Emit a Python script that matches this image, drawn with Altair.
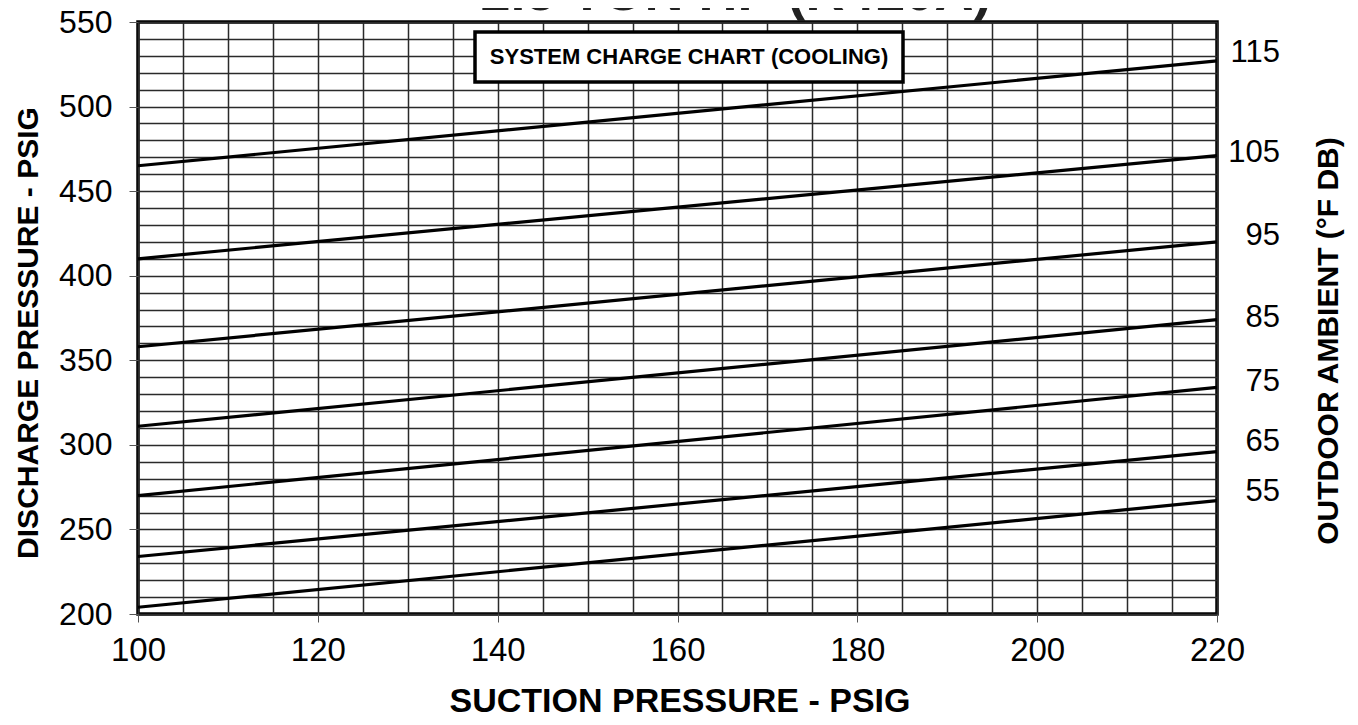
import altair as alt
import pandas as pd

# ---- data ----
ambient_f = [115, 105, 95, 85, 75, 65, 55]            # outdoor ambient (°F DB)
suction_ends = [100, 220]                             # suction pressure (psig) at line ends
discharge_at_100 = [465, 410, 358, 311, 270, 234, 204]
discharge_at_220 = [527, 471, 420, 374, 334, 296, 267]
label_discharge = [531.8, 472.6, 423.5, 375.0, 337.1, 301.6, 272.0]  # where each right label sits

x_ticks = [100, 120, 140, 160, 180, 200, 220]
y_ticks = [200, 250, 300, 350, 400, 450, 500, 550]
x_grid = list(range(100, 221, 5))
y_grid = list(range(200, 551, 10))

chart_title = "2.5 TON HP (R410A)"
box_title = "SYSTEM CHARGE CHART (COOLING)"
x_title = "SUCTION PRESSURE - PSIG"
y_title = "DISCHARGE PRESSURE - PSIG"
right_title = "OUTDOOR AMBIENT (°F DB)"

rows = []
for t, a, b in zip(ambient_f, discharge_at_100, discharge_at_220):
    rows.append({"ambient": t, "suction": suction_ends[0], "discharge": a})
    rows.append({"ambient": t, "suction": suction_ends[1], "discharge": b})
lines_df = pd.DataFrame(rows)
labels_df = pd.DataFrame({"label": [str(t) for t in ambient_f], "discharge": label_discharge})

FONT = "Liberation Sans"
W, H = 1079, 592

xscale = alt.Scale(domain=[100, 220], nice=False, zero=False)
yscale = alt.Scale(domain=[200, 550], nice=False, zero=False)

x_axis = alt.Axis(
    values=x_grid, title=None, domain=False, grid=True,
    gridColor="#2a2a2a", gridWidth=1.5,
    labelExpr="datum.value % 20 == 0 ? datum.label : ''",
    tickOpacity=alt.ExprRef(expr="datum.value % 20 == 0 ? 1 : 0"),
    tickSize=8, tickColor="#555", tickWidth=1,
    labelFont=FONT, labelFontSize=33, labelColor="black",
    labelPadding=12, labelOverlap=False, labelFlush=False,
)
y_axis = alt.Axis(
    values=y_grid, title=None, domain=False, grid=True,
    gridColor="#2a2a2a", gridWidth=1.5,
    labelExpr="datum.value % 50 == 0 ? datum.label : ''",
    tickOpacity=alt.ExprRef(expr="datum.value % 50 == 0 ? 1 : 0"),
    tickSize=9, tickColor="#555", tickWidth=1,
    labelFont=FONT, labelFontSize=32, labelColor="black",
    labelPadding=17, labelOverlap=False, labelFlush=False,
)

lines = alt.Chart(lines_df).mark_line(color="black", strokeWidth=3.2).encode(
    x=alt.X("suction:Q", scale=xscale, axis=x_axis),
    y=alt.Y("discharge:Q", scale=yscale, axis=y_axis),
    detail="ambient:N",
)

right_labels = alt.Chart(labels_df).mark_text(
    align="right", baseline="middle", font=FONT, fontSize=31, color="black"
).encode(
    x=alt.value(1142),
    y=alt.Y("discharge:Q", scale=yscale, axis=y_axis),
    text="label:N",
)

one = pd.DataFrame({"k": [0]})

box = alt.Chart(one).mark_rect(fill="white", stroke="black", strokeWidth=3.5).encode(
    x=alt.value(337), x2=alt.value(765), y=alt.value(10), y2=alt.value(60)
)
box_text = alt.Chart(one).mark_text(
    font=FONT, fontSize=22, fontWeight="bold", align="center", baseline="middle", color="black"
).encode(x=alt.value(551), y=alt.value(35), text=alt.value(box_title))

top_title = alt.Chart(one).mark_text(
    font=FONT, fontSize=54, fontWeight="bold", align="center", baseline="alphabetic", color="#222"
).encode(x=alt.value(598), y=alt.value(-12), text=alt.value(chart_title))

xt = alt.Chart(one).mark_text(
    font=FONT, fontSize=34, fontWeight="bold", align="center", baseline="alphabetic", color="black"
).encode(x=alt.value(542), y=alt.value(690), text=alt.value(x_title))

yt = alt.Chart(one).mark_text(
    font=FONT, fontSize=30, fontWeight="bold", align="center", baseline="middle", color="black", angle=270
).encode(x=alt.value(-109), y=alt.value(311), text=alt.value(y_title))

rt = alt.Chart(one).mark_text(
    font=FONT, fontSize=30, fontWeight="bold", align="center", baseline="middle", color="black", angle=270
).encode(x=alt.value(1191), y=alt.value(319), text=alt.value(right_title))

chart = alt.layer(lines, right_labels, box, box_text, top_title, xt, yt, rt).properties(
    width=W, height=H,
    autosize=alt.AutoSizeParams(type="none"),
    padding={"left": 130, "top": 14, "right": 133, "bottom": 100},
).configure(
    background="white",
    view=alt.ViewConfig(stroke="black", strokeWidth=3.5),
)

chart.save("out.html", embed_options={"renderer": "svg", "actions": False})
